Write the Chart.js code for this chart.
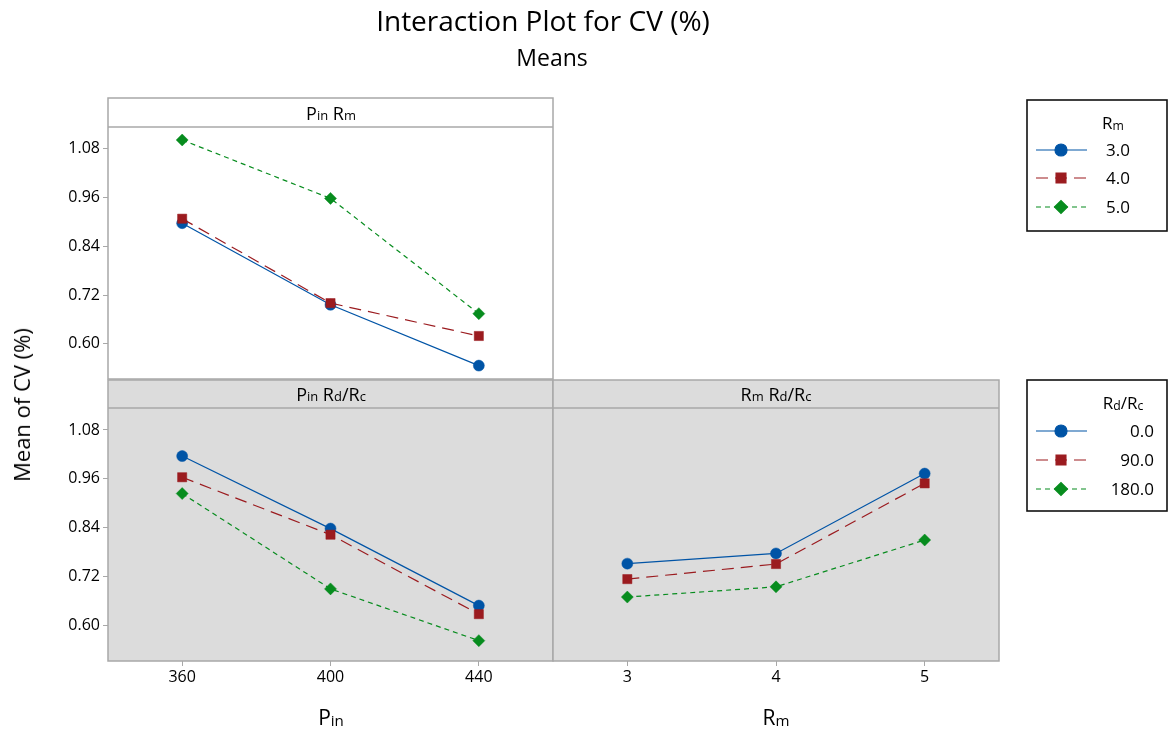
<!DOCTYPE html>
<html>
<head>
<meta charset="utf-8">
<script src="https://cdn.jsdelivr.net/npm/chart.js@4.4.1/dist/chart.umd.min.js"></script>
<style>
    body { margin: 0; background: #fff; font-family: 'Open Sans', sans-serif; color: #000; }
    #page { position: relative; width: 1169px; height: 740px; overflow: hidden; }
    #page canvas { position: absolute; left: 0; top: 0; }
    .txt { position: absolute; white-space: nowrap; transform: translate(-50%, -50%); line-height: 1; }
    .txt sub { font-size: 0.72em; vertical-align: -0.06em; }
</style>
</head>
<body>
<div id="page">
    <canvas id="chartPinRm" width="1169" height="740"></canvas>
    <canvas id="chartPinRd" width="1169" height="740"></canvas>
    <canvas id="chartRmRd" width="1169" height="740"></canvas>

    <div class="txt" style="left:543px; top:20px; font-size:28px;">Interaction Plot for CV (%)</div>
    <div class="txt" style="left:552px; top:57px; font-size:23px;">Means</div>

    <div class="txt" style="left:331px; top:113px; font-size:18px;">P<sub>in</sub> R<sub>m</sub></div>
    <div class="txt" style="left:331px; top:394px; font-size:18px;">P<sub>in</sub> R<sub>d</sub>/R<sub>c</sub></div>
    <div class="txt" style="left:776px; top:394px; font-size:18px;">R<sub>m</sub> R<sub>d</sub>/R<sub>c</sub></div>

    <div class="txt" style="left:331px; top:718px; font-size:21px;">P<sub>in</sub></div>
    <div class="txt" style="left:776px; top:718px; font-size:21px;">R<sub>m</sub></div>
    <div class="txt" style="left:21px; top:405px; font-size:22px; transform: translate(-50%, -50%) rotate(-90deg);">Mean of CV (%)</div>

    <div class="txt" style="left:1113px; top:123px; font-size:17px;">R<sub>m</sub></div>
    <div class="txt" style="left:1123px; top:403px; font-size:17px;">R<sub>d</sub>/R<sub>c</sub></div>
</div>

<script>
// Factor levels
const pinLevels = ['360', '400', '440'];
const rmLevels = ['3', '4', '5'];
const yTicks = [0.60, 0.72, 0.84, 0.96, 1.08];

// Pin x Rm means (one list per Rm level)
const pinRm3 = [0.897, 0.696, 0.546];
const pinRm4 = [0.908, 0.700, 0.619];
const pinRm5 = [1.102, 0.958, 0.674];

// Pin x Rd/Rc means (one list per Rd/Rc level)
const pinRd0 = [1.016, 0.838, 0.649];
const pinRd90 = [0.964, 0.823, 0.628];
const pinRd180 = [0.924, 0.690, 0.563];

// Rm x Rd/Rc means
const rmRd0 = [0.752, 0.777, 0.973];
const rmRd90 = [0.714, 0.751, 0.949];
const rmRd180 = [0.670, 0.695, 0.810];

// Legend labels
const rmLegend = ['3.0', '4.0', '5.0'];
const rdLegend = ['0.0', '90.0', '180.0'];

const FONT = "'Open Sans', sans-serif";
const BLUE = '#0054A6';
const RED = '#9B1B1F';
const GREEN = '#078C1E';
const FRAME = '#a8a8a8';
const PANEL_GREY = '#dcdcdc';

// Line styles shared by the three level series
const styles = [
    { color: BLUE, dash: [], pointStyle: 'circle', radius: 5.5, order: 3 },
    { color: RED, dash: [12, 7], pointStyle: 'rect', radius: 6.5, order: 2 },
    { color: GREEN, dash: [5, 4], pointStyle: 'rectRot', radius: 6, order: 1 }
];

function makeDatasets(series) {
    return series.map((values, i) => ({
        data: values,
        borderColor: styles[i].color,
        backgroundColor: styles[i].color,
        borderWidth: 1.2,
        borderDash: styles[i].dash,
        pointStyle: styles[i].pointStyle,
        pointRadius: styles[i].radius,
        pointBorderWidth: 0.5,
        order: styles[i].order,
        tension: 0
    }));
}

// Panel background, strip and frame
const panelFrame = {
    id: 'panelFrame',
    beforeDraw(chart, args, opts) {
        const { ctx, chartArea } = chart;
        const top = opts.stripTop;
        ctx.save();
        ctx.fillStyle = opts.bg;
        ctx.fillRect(chartArea.left, top, chartArea.right - chartArea.left, chartArea.bottom - top);
        ctx.restore();
    },
    afterDraw(chart, args, opts) {
        const { ctx, chartArea } = chart;
        const top = opts.stripTop;
        ctx.save();
        ctx.strokeStyle = FRAME;
        ctx.lineWidth = 1.5;
        ctx.strokeRect(chartArea.left, top, chartArea.right - chartArea.left, chartArea.bottom - top);
        ctx.beginPath();
        ctx.moveTo(chartArea.left, chartArea.top);
        ctx.lineTo(chartArea.right, chartArea.top);
        ctx.stroke();
        ctx.restore();
    }
};

// Boxed legend with line + marker swatches
const boxLegend = {
    id: 'boxLegend',
    afterDraw(chart, args, opts) {
        if (!opts.box) return;
        const ctx = chart.ctx;
        const b = opts.box;
        ctx.save();
        ctx.strokeStyle = '#111';
        ctx.lineWidth = 1.6;
        ctx.strokeRect(b.x, b.y, b.w, b.h);

        opts.labels.forEach((label, i) => {
            const st = styles[i];
            const y = opts.rows[i];
            ctx.strokeStyle = st.color;
            ctx.fillStyle = st.color;
            ctx.lineWidth = 1.2;
            ctx.setLineDash(st.dash);
            ctx.beginPath();
            ctx.moveTo(1036, y);
            ctx.lineTo(1087, y);
            ctx.stroke();
            ctx.setLineDash([]);
            Chart.helpers.drawPoint(ctx, { pointStyle: st.pointStyle, radius: st.radius + 0.5, borderWidth: 0.5, rotation: 0 }, 1061, y);

            ctx.fillStyle = '#000';
            ctx.font = '17px ' + FONT;
            ctx.textAlign = 'right';
            ctx.textBaseline = 'middle';
            ctx.fillText(label, opts.textRight, y + 1);
        });
        ctx.restore();
    }
};

function yScale(show) {
    return {
        type: 'linear',
        display: show,
        position: 'left',
        min: 0.513,
        max: 1.134,
        afterBuildTicks: scale => { scale.ticks = yTicks.map(v => ({ value: v })); },
        afterFit: scale => { scale.width = show ? 108 : 0; },
        grid: { display: true, drawOnChartArea: false, drawTicks: true, tickLength: 5, color: FRAME },
        border: { display: false },
        ticks: {
            padding: 3,
            color: '#000',
            font: { family: FONT, size: 16 },
            callback: v => v.toFixed(2)
        }
    };
}

function xScale(show) {
    return {
        type: 'category',
        display: show,
        offset: true,
        afterFit: scale => { scale.height = show ? 30 : 0; },
        grid: { display: true, offset: false, drawOnChartArea: false, drawTicks: true, tickLength: 5, color: FRAME },
        border: { display: false },
        ticks: {
            padding: 2,
            autoSkip: false,
            maxRotation: 0,
            color: '#000',
            font: { family: FONT, size: 16 }
        }
    };
}

function makeChart(id, labels, series, cfg) {
    return new Chart(document.getElementById(id), {
        type: 'line',
        data: { labels: labels, datasets: makeDatasets(series) },
        options: {
            responsive: false,
            animation: false,
            layout: { padding: cfg.padding },
            scales: { x: xScale(cfg.showX), y: yScale(cfg.showY) },
            plugins: {
                legend: { display: false },
                tooltip: { enabled: false },
                panelFrame: { bg: cfg.bg, stripTop: cfg.stripTop },
                boxLegend: cfg.legend || {}
            }
        },
        plugins: [panelFrame, boxLegend]
    });
}

// Top-left: Pin x Rm
makeChart('chartPinRm', pinLevels, [pinRm3, pinRm4, pinRm5], {
    padding: { left: 0, top: 127, right: 1169 - 553, bottom: 740 - 379 },
    showX: false, showY: true, bg: '#fff', stripTop: 98,
    legend: {
        box: { x: 1027, y: 100, w: 140, h: 131 },
        labels: rmLegend, rows: [150, 178, 207], textRight: 1130
    }
});

// Bottom-left: Pin x Rd/Rc
makeChart('chartPinRd', pinLevels, [pinRd0, pinRd90, pinRd180], {
    padding: { left: 0, top: 408, right: 1169 - 553, bottom: 740 - 661 - 30 },
    showX: true, showY: true, bg: PANEL_GREY, stripTop: 380
});

// Bottom-right: Rm x Rd/Rc
makeChart('chartRmRd', rmLevels, [rmRd0, rmRd90, rmRd180], {
    padding: { left: 553, top: 408, right: 1169 - 999, bottom: 740 - 661 - 30 },
    showX: true, showY: false, bg: PANEL_GREY, stripTop: 380,
    legend: {
        box: { x: 1027, y: 380, w: 140, h: 131 },
        labels: rdLegend, rows: [431, 460, 489], textRight: 1154
    }
});
</script>
</body>
</html>
